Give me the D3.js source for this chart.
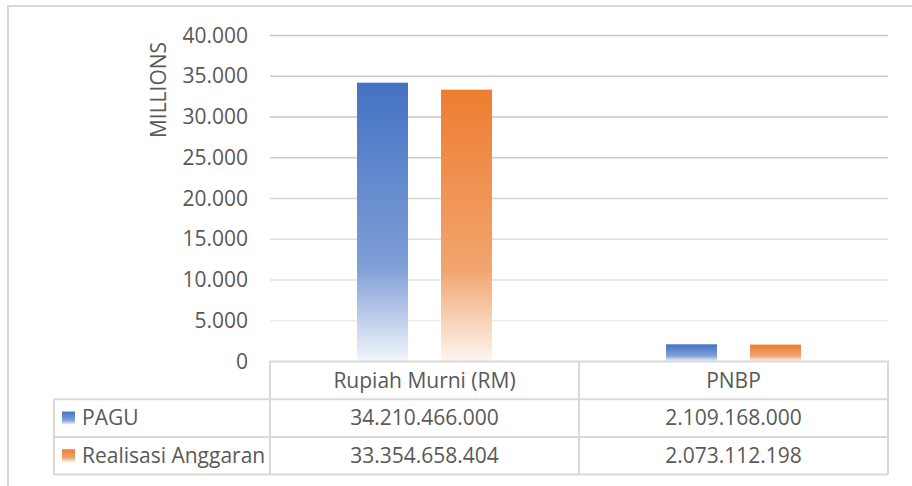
<!DOCTYPE html>
<html>
<head>
<meta charset="utf-8">
<script src="https://cdn.jsdelivr.net/npm/d3@7"></script>
<style>
  body { margin: 0; background: #fff; }
  text { font-family: "Open Sans", sans-serif; fill: #595959; }
</style>
</head>
<body>
<div class="container"></div>
<script>
const categories = ["Rupiah Murni (RM)", "PNBP"];
const seriesNames = ["PAGU", "Realisasi Anggaran"];
const pagu = [34210466000, 2109168000];
const realisasi = [33354658404, 2073112198];
const yTicks = [0, 5000, 10000, 15000, 20000, 25000, 30000, 35000, 40000];

const fades = [["#4472c4", "#7f9ed6", "#f3f6fc"], ["#ed7d31", "#f2a46f", "#fdf6f1"]];

const width = 912;
const height = 486;
const plot = { left: 270, right: 888, top: 35.5, bottom: 361.5 };
const rowH = 37.7;
const fs = 21;

const svg = d3.select(".container").append("svg")
  .attr("width", width).attr("height", height);

// gradients for bars and legend keys
const defs = svg.append("defs");
fades.forEach((f, i) => {
  const g = defs.append("linearGradient")
    .attr("id", "grad" + i)
    .attr("x1", 0).attr("y1", 0).attr("x2", 0).attr("y2", 1);
  g.append("stop").attr("offset", "0%").attr("stop-color", f[0]);
  g.append("stop").attr("offset", "66%").attr("stop-color", f[1]);
  g.append("stop").attr("offset", "100%").attr("stop-color", f[2]);
});

// chart outer border
svg.append("path")
  .attr("d", `M8,${height} V6 H${width}`)
  .attr("fill", "none").attr("stroke", "#d9d9d9").attr("stroke-width", 2);

// Scales
const yScale = d3.scaleLinear([0, 40000], [plot.bottom, plot.top]);
const x0 = d3.scaleBand(categories, [plot.left, plot.right]);
const x1 = d3.scaleBand(seriesNames, [0, x0.bandwidth()])
  .paddingInner(0.393).paddingOuter(1.036);

// gridlines, fading toward the bottom
const gridColor = d3.interpolateRgb("#f4f4f4", "#c6c6c6");
svg.append("g").selectAll("line")
  .data(yTicks.filter(t => t > 0)).enter().append("line")
  .attr("x1", plot.left).attr("x2", plot.right)
  .attr("y1", d => yScale(d)).attr("y2", d => yScale(d))
  .attr("stroke", d => gridColor(Math.min(1, d / 30000)))
  .attr("stroke-width", 1.5);

// y axis labels
const yAxis = d3.axisLeft(yScale).tickValues(yTicks)
  .tickSize(0).tickPadding(0)
  .tickFormat(d => d3.format(",")(d).replace(/,/g, "."));
const gy = svg.append("g").attr("transform", "translate(248,0)").call(yAxis);
gy.select(".domain").remove();
gy.selectAll("text").attr("font-size", fs).attr("font-family", "Open Sans").attr("fill", "#595959");

svg.append("text")
  .attr("transform", `translate(159,90) rotate(-90)`)
  .attr("text-anchor", "middle").attr("dy", "0.35em")
  .attr("font-size", fs)
  .text("MILLIONS");

// bars
const rows = [pagu, realisasi];
categories.forEach((c, ci) => {
  rows.forEach((vals, si) => {
    const v = vals[ci] / 1e6;
    svg.append("rect")
      .attr("x", x0(c) + x1(seriesNames[si]))
      .attr("y", yScale(v))
      .attr("width", x1.bandwidth())
      .attr("height", yScale(0) - yScale(v))
      .attr("fill", `url(#grad${si})`);
  });
});

// data table
const fmt = v => d3.format(",")(v).replace(/,/g, ".");
const tbl = svg.append("g").attr("fill", "none").attr("stroke", "#d9d9d9").attr("stroke-width", 2);
const tableLeft = 54;
const y0 = plot.bottom;
tbl.append("path").attr("d",
  `M${plot.left},${y0 + 3 * rowH} V${y0} H${plot.right} V${y0 + 3 * rowH}` +
  ` M${x0(categories[1])},${y0} V${y0 + 3 * rowH}` +
  ` M${tableLeft},${y0 + rowH} H${plot.right}` +
  ` M${tableLeft},${y0 + 2 * rowH} H${plot.right}` +
  ` M${tableLeft},${y0 + 3 * rowH} H${plot.right}` +
  ` M${tableLeft},${y0 + rowH} V${y0 + 3 * rowH}`);

categories.forEach(c => {
  svg.append("text")
    .attr("x", x0(c) + x0.bandwidth() / 2).attr("y", y0 + rowH / 2)
    .attr("dy", "0.35em").attr("text-anchor", "middle").attr("font-size", fs)
    .text(c);
});

rows.forEach((vals, si) => {
  const cy = y0 + rowH * (si + 1) + rowH / 2;
  svg.append("rect")
    .attr("x", 62).attr("y", cy - 6.5).attr("width", 13).attr("height", 13)
    .attr("fill", `url(#grad${si})`);
  svg.append("text")
    .attr("x", 82).attr("y", cy).attr("dy", "0.35em").attr("font-size", fs)
    .text(seriesNames[si]);
  vals.forEach((v, ci) => {
    svg.append("text")
      .attr("x", x0(categories[ci]) + x0.bandwidth() / 2).attr("y", cy)
      .attr("dy", "0.35em").attr("text-anchor", "middle").attr("font-size", fs)
      .text(fmt(v));
  });
});
</script>
</body>
</html>
